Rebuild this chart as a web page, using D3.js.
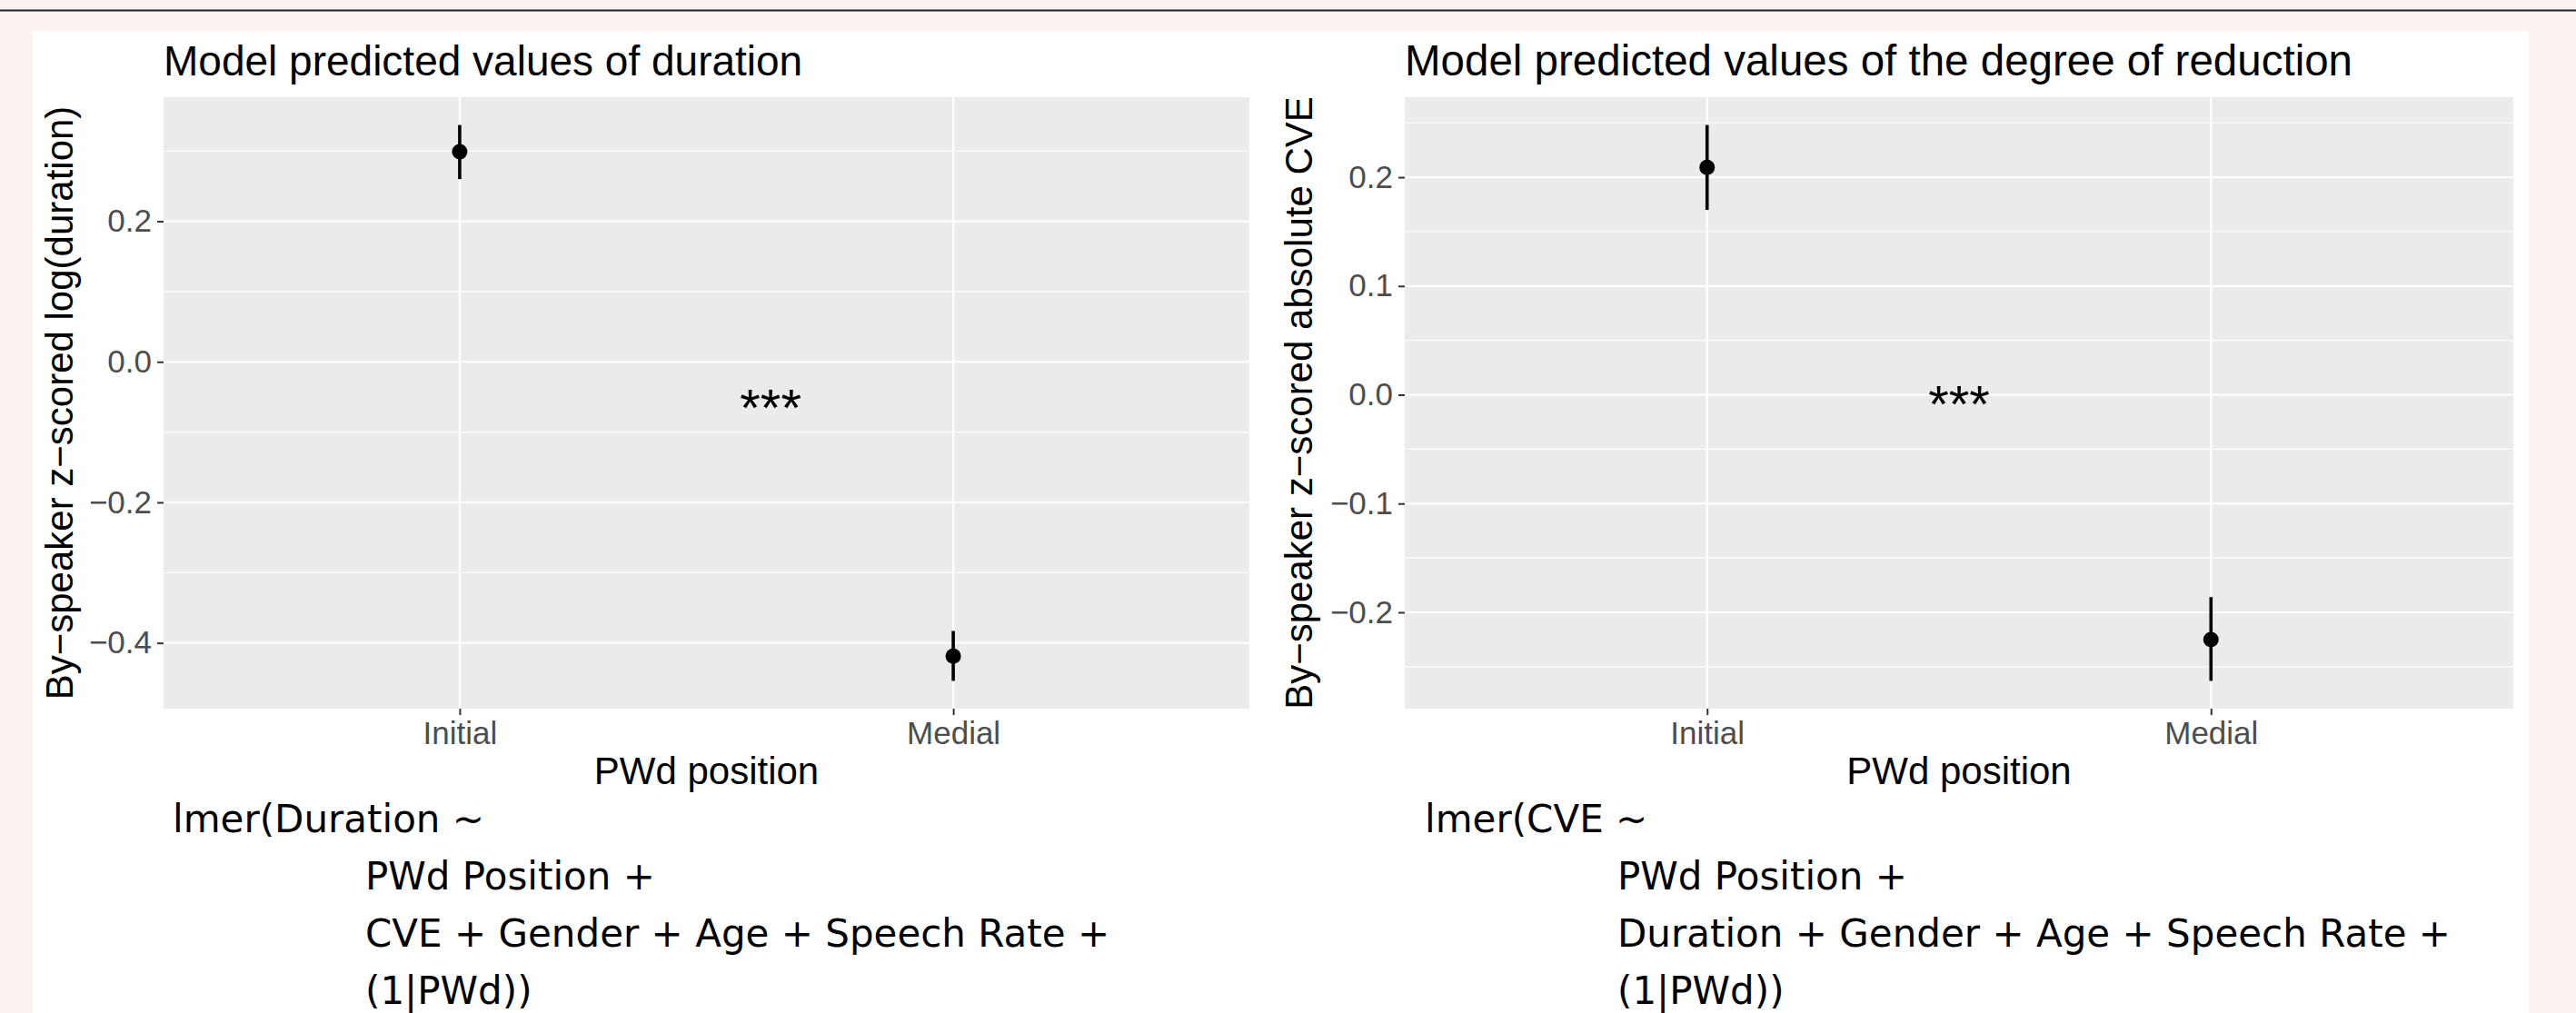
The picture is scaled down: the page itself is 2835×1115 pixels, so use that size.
<!DOCTYPE html>
<html>
<head>
<meta charset="utf-8">
<script src="https://cdn.jsdelivr.net/npm/d3@7"></script>
<style>
  body { margin: 0; background: #fcf3f0; }
  svg { display: block; }
</style>
</head>
<body>
<svg id="chart" width="2835" height="1115"></svg>
<script>
// categories on the x axis
const positions = ["Initial", "Medial"];

// duration model: fit and 95% CI
const durFit  = [0.299, -0.419];
const durLow  = [0.260, -0.454];
const durHigh = [0.337, -0.383];
const durTicks = [-0.4, -0.2, 0.0, 0.2];

// degree of reduction (CVE) model
const cveFit  = [0.209, -0.225];
const cveLow  = [0.170, -0.263];
const cveHigh = [0.248, -0.186];
const cveTicks = [-0.2, -0.1, 0.0, 0.1, 0.2];

// significance label, placed in data units (x as category index 1..2)
const durStars = { x: 1.63, y: -0.053, label: "***" };
const cveStars = { x: 1.5, y: 0.0, label: "***" };

const durFormula = ["lmer(Duration ~", "PWd Position +", "CVE + Gender + Age + Speech Rate +", "(1|PWd))"];
const cveFormula = ["lmer(CVE ~", "PWd Position +", "Duration + Gender + Age + Speech Rate +", "(1|PWd))"];

const svg = d3.select("#chart");
const sansFont = "'Liberation Sans', Arial, Helvetica, sans-serif";

// page background pieces
svg.append("rect").attr("width", 2835).attr("height", 1115).attr("fill", "#fcf3f0");
svg.append("line").attr("x1", 0).attr("x2", 2835).attr("y1", 11.5).attr("y2", 11.5)
   .attr("stroke", "#222").attr("stroke-width", 2);
svg.append("rect").attr("x", 36).attr("y", 34).attr("width", 2747).attr("height", 1081).attr("fill", "#fff");

function drawPanel(opt) {
  const g = svg.append("g");
  const x0 = opt.left, x1 = opt.right, y0 = 107, y1 = 780;

  // ggplot style 5% expansion of the data range
  const lo = d3.min(opt.low), hi = d3.max(opt.high);
  const pad = (hi - lo) * 0.05;
  const y = d3.scaleLinear().domain([lo - pad, hi + pad]).range([y1, y0]);
  const x = d3.scalePoint().domain(positions).range([x0, x1]).padding(0.6);
  const xc = d3.scaleLinear().domain([0.4, 2.6]).range([x0, x1]);

  g.append("rect").attr("x", x0).attr("y", y0).attr("width", x1 - x0).attr("height", y1 - y0)
   .attr("fill", "#ebebeb");

  // minor gridlines halfway between the majors
  const step = opt.ticks[1] - opt.ticks[0];
  const minor = [opt.ticks[0] - step / 2].concat(opt.ticks.map(t => t + step / 2))
    .filter(v => v > y.domain()[0] && v < y.domain()[1]);
  g.selectAll(".minor").data(minor).enter().append("line")
   .attr("x1", x0).attr("x2", x1)
   .attr("y1", d => y(d)).attr("y2", d => y(d))
   .attr("stroke", "#fff").attr("stroke-width", 1.1);
  g.selectAll(".major").data(opt.ticks).enter().append("line")
   .attr("x1", x0).attr("x2", x1)
   .attr("y1", d => y(d)).attr("y2", d => y(d))
   .attr("stroke", "#fff").attr("stroke-width", 2.2);
  g.selectAll(".vmajor").data(positions).enter().append("line")
   .attr("x1", d => x(d)).attr("x2", d => x(d))
   .attr("y1", y0).attr("y2", y1)
   .attr("stroke", "#fff").attr("stroke-width", 2.2);

  // axes
  const ya = g.append("g").attr("transform", "translate(" + x0 + ",0)")
    .call(d3.axisLeft(y).tickValues(opt.ticks).tickSize(7).tickPadding(6).tickFormat(d3.format(".1f")));
  const xa = g.append("g").attr("transform", "translate(0," + y1 + ")")
    .call(d3.axisBottom(x).tickSize(7).tickPadding(7));
  [ya, xa].forEach(a => {
    a.select(".domain").remove();
    a.selectAll(".tick line").attr("stroke", "#333").attr("stroke-width", 2);
    a.selectAll(".tick text").attr("fill", "#4d4d4d").style("font-family", sansFont).style("font-size", "35px");
  });

  // point ranges
  g.selectAll(".ci").data(positions).enter().append("line")
   .attr("x1", d => x(d)).attr("x2", d => x(d))
   .attr("y1", (d, i) => y(opt.low[i])).attr("y2", (d, i) => y(opt.high[i]))
   .attr("stroke", "#000").attr("stroke-width", 3.6);
  g.selectAll(".pt").data(positions).enter().append("circle")
   .attr("cx", d => x(d)).attr("cy", (d, i) => y(opt.fit[i]))
   .attr("r", 8.5).attr("fill", "#000");

  g.append("text").attr("x", xc(opt.stars.x)).attr("y", y(opt.stars.y)).attr("dy", "0.52em")
   .attr("text-anchor", "middle").style("font-family", sansFont).style("font-size", "58px")
   .text(opt.stars.label);

  // titles
  g.append("text").attr("x", x0).attr("y", 83).style("font-family", sansFont)
   .style("font-size", opt.titleSize + "px").text(opt.title);
  g.append("text").attr("x", (x0 + x1) / 2).attr("y", 863).attr("text-anchor", "middle")
   .style("font-family", sansFont).style("font-size", "42px").text("PWd position");
  g.append("text").attr("transform", "translate(" + opt.ytitleX + "," + (y0 + y1) / 2 + ") rotate(-90)")
   .attr("text-anchor", "middle").style("font-family", sansFont).style("font-size", "42px")
   .text(opt.ytitle);

  // model formula below the plot
  g.selectAll(".formula").data(opt.formula).enter().append("text")
   .attr("x", (d, i) => i === 0 ? opt.formulaX : opt.formulaX + 212)
   .attr("y", (d, i) => 916 + i * 63)
   .style("font-family", "'DejaVu Sans', sans-serif").style("font-size", "42px")
   .text(d => d);
}

drawPanel({
  left: 180, right: 1375, fit: durFit, low: durLow, high: durHigh, ticks: durTicks,
  stars: durStars, title: "Model predicted values of duration", titleSize: 46,
  ytitle: "By\u2212speaker z\u2212scored log(duration)", ytitleX: 80,
  formula: durFormula, formulaX: 190
});
drawPanel({
  left: 1546, right: 2766, fit: cveFit, low: cveLow, high: cveHigh, ticks: cveTicks,
  stars: cveStars, title: "Model predicted values of the degree of reduction", titleSize: 47.5,
  ytitle: "By\u2212speaker z\u2212scored absolute CVE", ytitleX: 1444,
  formula: cveFormula, formulaX: 1568
});
</script>
</body>
</html>
